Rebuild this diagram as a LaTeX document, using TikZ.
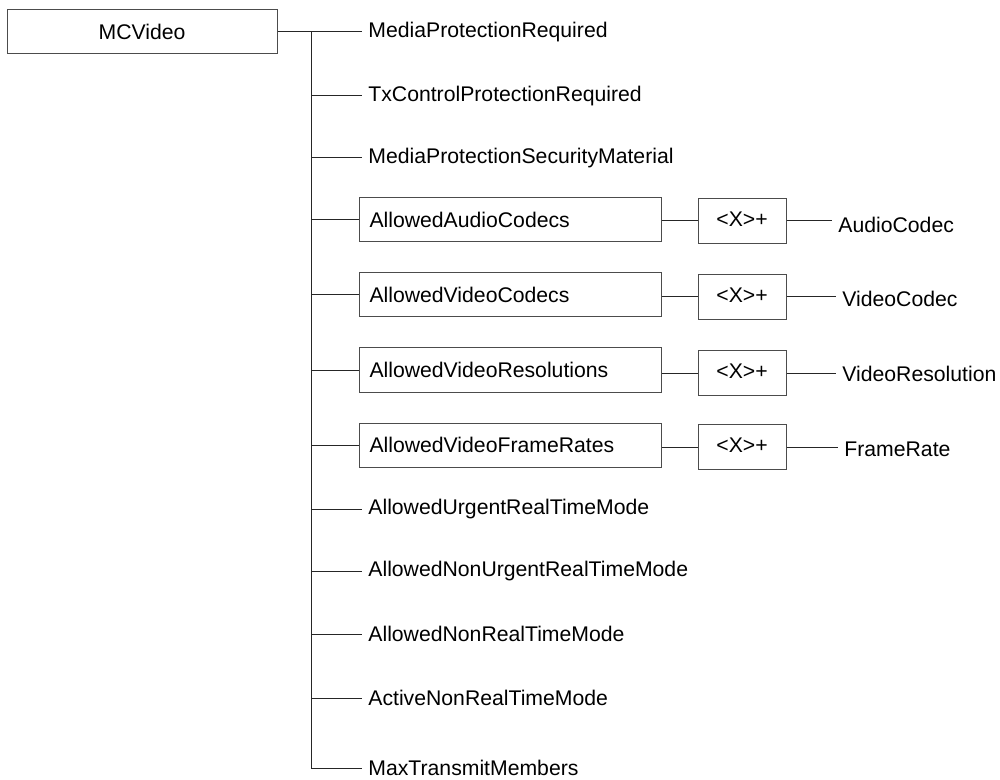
\documentclass[tikz,border=0pt]{standalone}
\usepackage{fontspec}
\setmainfont{Liberation Sans}
\begin{document}
\begin{tikzpicture}[x=0.5pt,y=-0.5pt,
  every node/.style={font=\fontsize{10.6}{12}\selectfont},
  conn/.style={draw=black!85,line width=0.5pt},
  leaf/.style={anchor=west,inner sep=3pt},
  rootbox/.style={draw=black!70,line width=0.5pt,minimum width=135pt,minimum height=22pt,inner sep=0pt},
  listbox/.style={draw=black!70,line width=0.5pt,anchor=west,minimum height=22pt,inner xsep=5pt,inner ysep=0pt,text width=141pt,align=left},
  xbox/.style={draw=black!70,line width=0.5pt,minimum width=44pt,minimum height=22.5pt,inner sep=0pt},
  rleaf/.style={anchor=west,inner sep=3pt}]
\useasboundingbox (0,0) rectangle (1000,780);
% root
\node[rootbox] (mc) at (142,32) {MCVideo};
% leaves
\node[leaf] (mpr) at (362,32) {MediaProtectionRequired};
\node[leaf] (txc) at (362,96) {TxControlProtectionRequired};
\node[leaf] (mpsm) at (362,158) {MediaProtectionSecurityMaterial};
\node[listbox] (aac) at (359,220) {AllowedAudioCodecs};
\node[listbox] (avc) at (359,295) {AllowedVideoCodecs};
\node[listbox] (avr) at (359,370) {AllowedVideoResolutions};
\node[listbox] (avf) at (359,445) {AllowedVideoFrameRates};
\node[leaf] (aurt) at (362,509) {AllowedUrgentRealTimeMode};
\node[leaf] (anurt) at (362,571) {AllowedNonUrgentRealTimeMode};
\node[leaf] (anrt) at (362,634) {AllowedNonRealTimeMode};
\node[leaf] (acnrt) at (362,698) {ActiveNonRealTimeMode};
\node[leaf] (mtm) at (362,768) {MaxTransmitMembers};
% X boxes
\node[xbox] (xa) at (742,221) {\raisebox{1.5pt}{<X>+}};
\node[xbox] (xv) at (742,297) {\raisebox{1.5pt}{<X>+}};
\node[xbox] (xr) at (742,373) {\raisebox{1.5pt}{<X>+}};
\node[xbox] (xf) at (742,447) {\raisebox{1.5pt}{<X>+}};
% right leaves
\node[rleaf] (ac) at (832,225) {AudioCodec};
\node[rleaf] (vc) at (836,299) {VideoCodec};
\node[rleaf] (vr) at (836,374) {VideoResolution};
\node[rleaf] (fr) at (838,449) {FrameRate};
% trunk coordinates
\coordinate (t0) at (311,32);
\coordinate (t1) at (311,96);
\coordinate (t2) at (311,158);
\coordinate (t3) at (311,220);
\coordinate (t4) at (311,295);
\coordinate (t5) at (311,370);
\coordinate (t6) at (311,445);
\coordinate (t7) at (311,509);
\coordinate (t8) at (311,571);
\coordinate (t9) at (311,634);
\coordinate (t10) at (311,698);
% connectors
\draw[conn] (mc.east) -- (mpr.west);
\draw[conn] (t0) |- (mtm.west);
\draw[conn] (t1) -- (txc.west);
\draw[conn] (t2) -- (mpsm.west);
\draw[conn] (t3) -- (aac.west);
\draw[conn] (t4) -- (avc.west);
\draw[conn] (t5) -- (avr.west);
\draw[conn] (t6) -- (avf.west);
\draw[conn] (t7) -- (aurt.west);
\draw[conn] (t8) -- (anurt.west);
\draw[conn] (t9) -- (anrt.west);
\draw[conn] (t10) -- (acnrt.west);
\draw[conn] (aac.east |- xa) -- (xa.west);
\draw[conn] (avc.east |- xv) -- (xv.west);
\draw[conn] (avr.east |- xr) -- (xr.west);
\draw[conn] (avf.east |- xf) -- (xf.west);
\draw[conn] (xa.east) -- (xa.east -| ac.west);
\draw[conn] (xv.east) -- (xv.east -| vc.west);
\draw[conn] (xr.east) -- (xr.east -| vr.west);
\draw[conn] (xf.east) -- (xf.east -| fr.west);
\end{tikzpicture}
\end{document}
